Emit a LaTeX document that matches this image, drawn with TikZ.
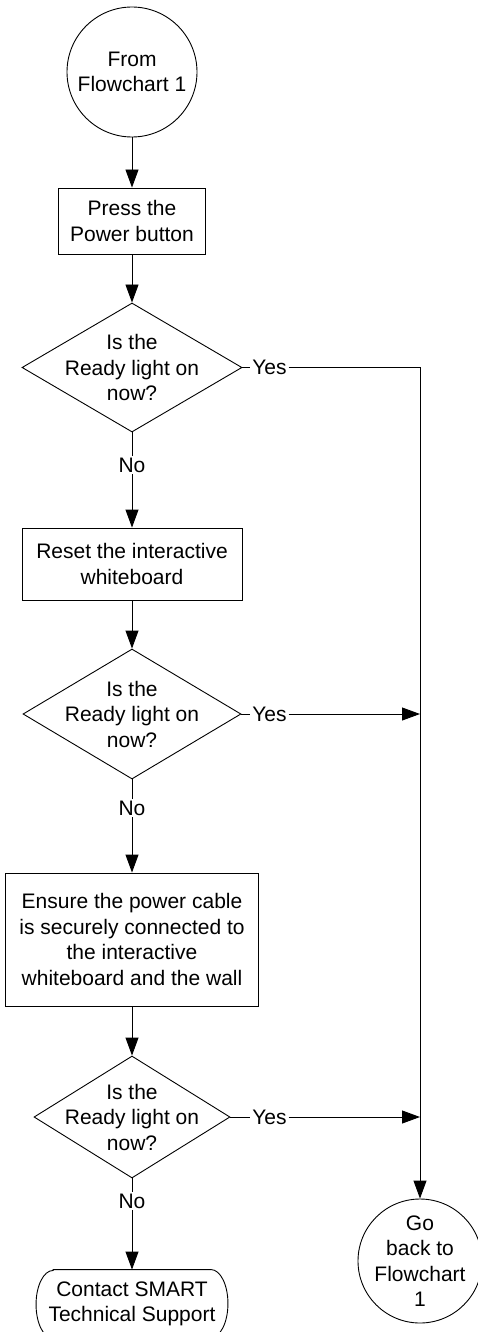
\documentclass[tikz,border=0pt]{standalone}
\usepackage{fontspec}
\setmainfont{Liberation Sans}
\usetikzlibrary{shapes.geometric,arrows.meta}
\newcommand\chartfont{\fontsize{21}{25.5}\selectfont}
\begin{document}
\begin{tikzpicture}[x=1pt,y=-1pt,font=\chartfont,line width=0.9pt,
  flow/.style={-{Triangle[length=18pt,width=13pt]}},
  stepbox/.style={draw,rectangle,align=center,inner sep=0pt},
  connector/.style={draw,circle,align=center,inner sep=0pt},
  question/.style={draw,diamond,inner sep=0pt,
    label={[align=center]center:{#1}}},
  answer/.style={inner sep=1.5pt},
  terminal/.style={rectangle,align=center,inner sep=0pt}]

\fill[white] (0,0) rectangle (477,1332);
\useasboundingbox (0,0) rectangle (477,1332);

% main column
\node[connector,minimum size=130pt] (start) at (132,72) {From\\Flowchart 1};
\node[stepbox,minimum width=147pt,minimum height=66pt] (press) at (132,221)
  {Press the\\Power button};
\node[question={Is the\\Ready light on\\now?},minimum width=220pt,minimum height=129pt]
  (q1) at (132,367.5) {};
\node[answer] (no1) at (132,465) {No};
\node[answer] (yes1) at (269.5,367.5) {Yes};

\node[stepbox,minimum width=220pt,minimum height=72pt] (reset) at (132,564)
  {Reset the interactive\\whiteboard};
\node[question={Is the\\Ready light on\\now?},minimum width=218pt,minimum height=130pt]
  (q2) at (132,714) {};
\node[answer] (no2) at (132,808) {No};
\node[answer] (yes2) at (269.5,714) {Yes};

\node[stepbox,minimum width=253pt,minimum height=133pt] (cable) at (132,939.5)
  {Ensure the power cable\\is securely connected to\\the interactive\\whiteboard and the wall};
\node[question={Is the\\Ready light on\\now?},minimum width=196pt,minimum height=122pt]
  (q3) at (132,1117) {};
\node[answer] (no3) at (132,1201) {No};
\node[answer] (yes3) at (269.5,1117) {Yes};

\node[terminal,minimum width=191pt,minimum height=68pt] (support) at (132,1304)
  {Contact SMART\\Technical Support};
\draw ([xshift=17pt]support.north west) -- ([xshift=-17pt]support.north east)
  arc[start angle=90,end angle=-90,x radius=17pt,y radius=34pt]
  -- ([xshift=17pt]support.south west)
  arc[start angle=270,end angle=90,x radius=17pt,y radius=34pt] -- cycle;

% return connector
\node[connector,minimum size=124pt,
  label={[align=center]center:{Go\\back to\\Flowchart\\1}}] (back) at (420,1261) {};

% main flow
\draw[flow] (start) -- (press);
\draw[flow] (press) -- (q1);
\draw (q1) -- (no1);
\draw[flow] (no1) -- (reset);
\draw[flow] (reset) -- (q2);
\draw (q2) -- (no2);
\draw[flow] (no2) -- (cable);
\draw[flow] (cable) -- (q3);
\draw (q3) -- (no3);
\draw[flow] (no3) -- (support);

% yes branches
\coordinate (c1) at (yes1 -| back.north);
\coordinate (c2) at (yes2 -| back.north);
\coordinate (c3) at (yes3 -| back.north);
\draw (q1) -- (yes1);
\draw[flow] (yes1) -- (c1) -- (back);
\draw (q2) -- (yes2);
\draw[flow] (yes2) -- (c2);
\draw (q3) -- (yes3);
\draw[flow] (yes3) -- (c3);
\end{tikzpicture}
\end{document}
